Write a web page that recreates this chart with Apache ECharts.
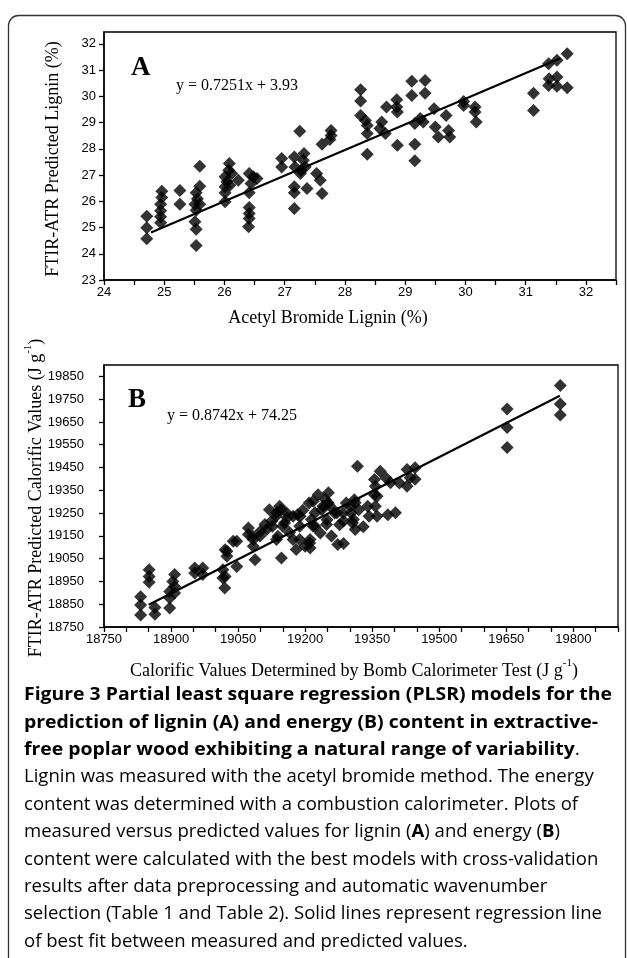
<!DOCTYPE html>
<html>
<head>
<meta charset="utf-8">
<script src="https://cdn.jsdelivr.net/npm/echarts@6/dist/echarts.min.js"></script>
<style>
html,body{margin:0;padding:0;background:#fff;}
#c{width:627px;height:958px;}
</style>
</head>
<body>
<div id="c"></div>
<script>
// ---------- Panel A data (Acetyl bromide lignin %, FTIR-ATR predicted %) ----------
const ligninMeasured = [24.71,24.71,24.71,24.96,24.96,24.94,24.94,24.94,24.94,25.26,25.26,25.59,25.59,25.53,25.55,25.51,25.53,25.51,25.53,25.53,25.59,
  26.08,26.07,26.01,26.04,26.01,26.01,26.01,26.12,26.23,26.09,26.41,26.48,26.44,26.41,26.41,26.41,26.41,26.40,26.54,26.95,26.95,
  27.16,27.17,27.26,27.16,27.16,27.16,27.25,27.32,27.31,27.34,27.27,27.37,27.62,27.53,27.59,27.62,27.77,27.77,27.75,
  28.26,28.26,28.26,28.34,28.37,28.37,28.37,28.61,28.58,28.67,28.69,28.86,28.86,28.87,28.87,29.11,29.11,29.16,29.16,29.16,
  29.33,29.33,29.30,29.25,29.48,29.50,29.55,29.68,29.72,29.74,29.97,29.97,30.16,30.16,30.18,31.13,31.13,31.38,31.39,31.38,31.52,31.52,31.52,31.69,31.69];
const ligninPredicted = [25.43,24.99,24.57,26.38,26.14,25.89,25.64,25.41,25.18,26.41,25.89,27.33,26.57,26.32,26.10,25.89,25.66,25.22,24.93,24.31,25.89,
  27.44,27.18,26.93,26.74,26.55,26.32,25.98,27.06,26.80,26.61,27.06,26.93,26.68,26.32,25.76,25.53,25.34,25.03,26.87,27.63,27.31,
  27.69,27.31,27.06,26.55,26.32,25.72,28.67,27.82,27.56,27.31,27.18,26.49,28.17,27.06,26.80,26.30,28.70,28.51,28.35,
  30.25,29.82,29.27,29.08,28.89,28.58,27.79,29.02,28.77,28.58,29.59,29.87,29.59,29.40,28.13,30.57,30.03,28.96,28.17,27.54,
  30.60,30.12,29.02,29.15,29.53,28.83,28.45,29.27,28.70,28.45,29.65,29.80,29.59,29.40,29.02,30.12,29.46,31.24,30.67,30.41,31.37,30.74,30.38,31.62,30.33];
const ligninFitX = [24.78, 31.58];
const ligninFitY = [24.81, 31.45];
const ligninXTicks = [24,25,26,27,28,29,30,31,32];
const ligninYTicks = [23,24,25,26,27,28,29,30,31,32];

// ---------- Panel B data (calorific values, J/g) ----------
const energyMeasured = [18832,18832,18832,18851,18851,18851,18864,18864,18897,18897,18897,18908,18908,18904,18908,18953,18953,18971,18971,
  19016,19016,19020,19025,19025,19047,19047,19073,19073,19084,19084,19088,19114,19099,19136,19143,19158,19150,19136,19147,
  19173,19188,19188,19218,19214,19218,19210,19021,19021,19039,19083,19120,19135,19146,19127,19139,19154,19173,19183,19180,
  19200,19209,19222,19229,19237,19252,19249,19266,19273,19277,19292,19303,19306,19310,19340,19343,19355,19355,19381,19385,19411,
  19189,19211,19211,19222,19234,19252,19245,19256,19271,19248,19259,19286,19286,19301,19312,19308,19312,19317,
  19368,19357,19361,19357,19361,19391,19402,19428,19428,19446,19446,19435,
  19100,19110,19125,19160,19195,19165,19240,19285,19320,19330,
  19652,19652,19652,19771,19771,19771];
const energyPredicted = [18883,18847,18803,19001,18972,18946,18836,18806,18906,18877,18833,18980,18928,18950,18899,19009,18987,19009,18980,
  19001,18965,18921,19082,19060,19126,19016,19185,19156,19134,19104,19045,19178,19149,19251,19280,19251,19192,19134,19053,
  19236,19192,19134,19302,19222,19192,19119,19089,18972,19126,19148,19265,19236,19265,19192,19148,19207,19134,19243,19090,
  19104,19294,19192,19331,19265,19294,19221,19250,19112,19199,19294,19250,19207,19309,19280,19236,19397,19331,19404,19243,19382,
  19236,19134,19097,19251,19163,19339,19310,19280,19251,19200,19149,19117,19215,19280,19295,19222,19178,19456,
  19434,19368,19324,19280,19236,19383,19251,19441,19368,19449,19398,19405,
  19170,19200,19215,19230,19262,19165,19280,19250,19265,19190,
  19707,19626,19538,19810,19729,19681];
const energyFitX = [18850, 19770];
const energyFitY = [18848, 19765];
const energyXTicks = [18750,18900,19050,19200,19350,19500,19650,19800];
const energyYTicks = [18750,18850,18950,19050,19150,19250,19350,19450,19550,19650,19750,19850];

// ---------- caption ----------
const captionBold = [
  'Figure 3 Partial least square regression (PLSR) models for the',
  'prediction of lignin (A) and energy (B) content in extractive-',
  'free poplar wood exhibiting a natural range of variability'
];
const captionNormal = [
  'Lignin was measured with the acetyl bromide method. The energy',
  'content was determined with a combustion calorimeter. Plots of',
  ['measured versus predicted values for lignin (', 'A', ') and energy (', 'B', ')'],
  'content were calculated with the best models with cross-validation',
  'results after data preprocessing and automatic wavenumber',
  'selection (Table 1 and Table 2). Solid lines represent regression line',
  'of best fit between measured and predicted values.'
];

const pairs = (xs, ys) => xs.map((x, i) => [x, ys[i]]);

const chart = echarts.init(document.getElementById('c'), null, {renderer: 'canvas'});

const tickFont = {color: '#000', fontFamily: '"Liberation Sans", Arial, sans-serif', fontSize: 13};
const axisLineStyle = {lineStyle: {color: '#000', width: 1.5}};
const axisTick = {show: true, length: 5, lineStyle: {color: '#000', width: 1.3}};

// caption measurement for horizontal condensing
const cv = document.createElement('canvas').getContext('2d');
const capSize = 18.5;
cv.font = 'bold ' + capSize + 'px "Open Sans"';
const sxBold = 588 / cv.measureText(captionBold[0]).width;
cv.font = capSize + 'px "Open Sans"';
const sxNorm = 578 / cv.measureText(captionNormal[5]).width;

const capFam = '"Open Sans", "Noto Sans", sans-serif';
const graphics = [];
// outer rounded frame
graphics.push({type: 'rect', shape: {x: 8.5, y: 15.5, width: 617, height: 990, r: 10},
  style: {fill: 'none', stroke: '#333', lineWidth: 1.3}, silent: true, z: 0});
// panel labels and equations
graphics.push({type: 'text', x: 131, y: 68, style: {text: 'A', font: 'bold 27px "Liberation Serif", serif', fill: '#000', textVerticalAlign: 'middle'}});
graphics.push({type: 'text', x: 176, y: 86, style: {text: 'y = 0.7251x + 3.93', font: '16px "Liberation Serif", serif', fill: '#000', textVerticalAlign: 'middle'}});
graphics.push({type: 'text', x: 128, y: 400, style: {text: 'B', font: 'bold 27px "Liberation Serif", serif', fill: '#000', textVerticalAlign: 'middle'}});
graphics.push({type: 'text', x: 167, y: 416, style: {text: 'y = 0.8742x + 74.25', font: '16px "Liberation Serif", serif', fill: '#000', textVerticalAlign: 'middle'}});
// axis titles
const serif = '"Liberation Serif", "Times New Roman", serif';
graphics.push({type: 'text', x: 328, y: 318, style: {text: 'Acetyl Bromide Lignin (%)', font: '18px ' + serif, fill: '#000', textAlign: 'center', textVerticalAlign: 'middle'}});
graphics.push({type: 'text', x: 53, y: 159, rotation: Math.PI / 2, style: {text: 'FTIR-ATR Predicted Lignin (%)', font: '18px ' + serif, fill: '#000', textAlign: 'center', textVerticalAlign: 'middle'}});
graphics.push({type: 'text', x: 354, y: 669, style: {
  text: '{t|Calorific Values Determined by Bomb Calorimeter Test (J g}{s|-1}{t|)}',
  textAlign: 'center', textVerticalAlign: 'middle',
  rich: {t: {fontFamily: serif, fontSize: 18, color: '#000', lineHeight: 22, verticalAlign: 'bottom'},
         s: {fontFamily: serif, fontSize: 11, color: '#000', lineHeight: 22, verticalAlign: 'top'}}}});
graphics.push({type: 'text', x: 34, y: 498, rotation: Math.PI / 2, style: {
  text: '{t|FTIR-ATR Predicted Calorific Values (J g}{s|-1}{t|)}',
  textAlign: 'center', textVerticalAlign: 'middle',
  rich: {t: {fontFamily: serif, fontSize: 18, color: '#000', lineHeight: 22, verticalAlign: 'bottom'},
         s: {fontFamily: serif, fontSize: 11, color: '#000', lineHeight: 22, verticalAlign: 'top'}}}});
// caption
const capLeft = 24, capTop = 695, capStep = 27.4;
const boldStyle = {fontFamily: capFam, fontSize: capSize, fontWeight: 'bold', color: '#1a1a1a'};
const normStyle = {fontFamily: capFam, fontSize: capSize, fontWeight: 'normal', color: '#505050'};
captionBold.forEach((t, i) => {
  const txt = i === 2 ? '{b|' + t + '}{n|.}' : '{b|' + t + '}';
  graphics.push({type: 'text', x: capLeft, y: capTop + i * capStep, scaleX: sxBold,
    style: {text: txt, textVerticalAlign: 'middle', rich: {b: boldStyle, n: normStyle}}});
});
captionNormal.forEach((t, i) => {
  let txt;
  if (Array.isArray(t)) {
    txt = t.map((p, k) => (k % 2 === 1 ? '{b|' + p + '}' : '{n|' + p + '}')).join('');
  } else {
    txt = '{n|' + t + '}';
  }
  graphics.push({type: 'text', x: capLeft, y: capTop + (i + 3) * capStep, scaleX: sxNorm,
    style: {text: txt, textVerticalAlign: 'middle', rich: {b: Object.assign({}, boldStyle, {color: '#111'}), n: normStyle}}});
});

const option = {
  animation: false,
  backgroundColor: '#fff',
  grid: [
    {left: 104, top: 32, width: 512, height: 248, show: true, borderColor: '#000', borderWidth: 1.3, containLabel: false},
    {left: 104, top: 365, width: 514, height: 262, show: true, borderColor: '#000', borderWidth: 1.3, containLabel: false}
  ],
  xAxis: [
    {gridIndex: 0, type: 'value', min: 24, max: 32.5, interval: 0.5,
      axisLine: axisLineStyle, axisTick: axisTick, splitLine: {show: false},
      axisLabel: Object.assign({}, tickFont, {margin: 6,
        formatter: v => (ligninXTicks.indexOf(v) >= 0 ? String(v) : '')})},
    {gridIndex: 1, type: 'value', min: 18750, max: 19900, interval: 50,
      axisLine: axisLineStyle, axisTick: axisTick, splitLine: {show: false},
      axisLabel: Object.assign({}, tickFont, {margin: 6,
        formatter: v => (energyXTicks.indexOf(v) >= 0 ? String(v) : '')})}
  ],
  yAxis: [
    {gridIndex: 0, type: 'value', min: 23, max: 32.45, interval: 1,
      axisLine: axisLineStyle, axisTick: axisTick, splitLine: {show: false},
      axisLabel: Object.assign({}, tickFont, {margin: 8, showMaxLabel: false,
        formatter: v => (ligninYTicks.indexOf(v) >= 0 ? String(v) : '')})},
    {gridIndex: 1, type: 'value', min: 18750, max: 19900, interval: 100,
      axisLine: axisLineStyle, axisTick: axisTick, splitLine: {show: false},
      axisLabel: Object.assign({}, tickFont, {margin: 20, showMaxLabel: false,
        formatter: v => (energyYTicks.indexOf(v) >= 0 ? String(v) : '')})}
  ],
  series: [
    {type: 'scatter', xAxisIndex: 0, yAxisIndex: 0, symbol: 'diamond', symbolSize: 13,
      itemStyle: {color: '#000'}, data: pairs(ligninMeasured, ligninPredicted), z: 3},
    {type: 'line', xAxisIndex: 0, yAxisIndex: 0, symbol: 'none', lineStyle: {color: '#000', width: 2.2},
      data: pairs(ligninFitX, ligninFitY), z: 4},
    {type: 'scatter', xAxisIndex: 1, yAxisIndex: 1, symbol: 'diamond', symbolSize: 13,
      itemStyle: {color: '#000'}, data: pairs(energyMeasured, energyPredicted), z: 3},
    {type: 'line', xAxisIndex: 1, yAxisIndex: 1, symbol: 'none', lineStyle: {color: '#000', width: 2.2},
      data: pairs(energyFitX, energyFitY), z: 4}
  ],
  graphic: graphics
};
chart.setOption(option);
</script>
</body>
</html>
